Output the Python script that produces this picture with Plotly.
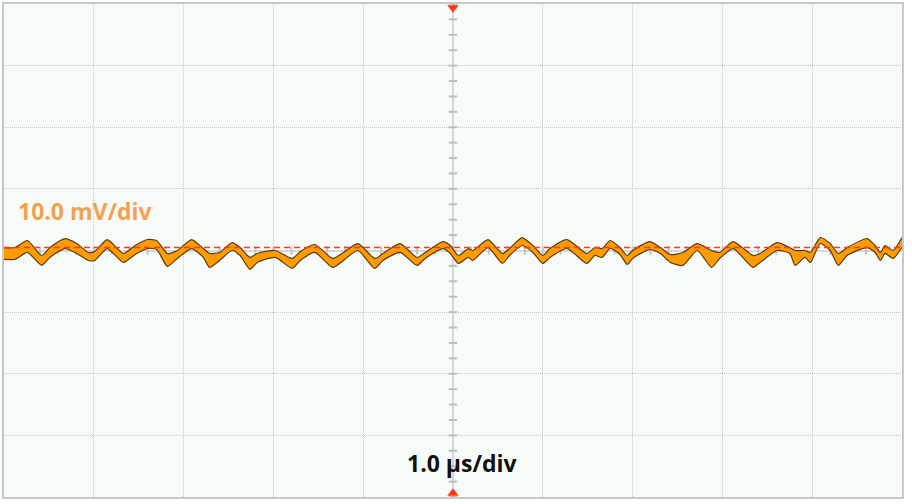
import numpy as np
import plotly.graph_objects as go

time_us = [-5.00, -4.88, -4.74, -4.58, -4.49, -4.32, -4.19, -4.06, -3.99, -3.85,
           -3.67, -3.54, -3.40, -3.30, -3.18, -3.07, -2.91, -2.78, -2.71, -2.60,
           -2.46, -2.37, -2.26, -2.18, -1.98, -1.79, -1.70, -1.54, -1.34, -1.22,
           -1.06, -0.87, -0.78, -0.59, -0.40, -0.31, -0.11, -0.03, 0.06, 0.17,
           0.22, 0.39, 0.55, 0.63, 0.77, 0.89, 1.00, 1.08, 1.27, 1.49,
           1.58, 1.66, 1.75, 1.86, 1.94, 2.00, 2.19, 2.31, 2.42, 2.56,
           2.72, 2.88, 2.97, 3.12, 3.34, 3.42, 3.61, 3.75, 3.81, 3.92,
           3.98, 4.09, 4.20, 4.29, 4.39, 4.61, 4.70, 4.76, 4.81, 4.90, 5.00]
upper_mv = [0.48, 0.48, 1.62, -0.81, 0.48, 1.94, 1.13, -0.32, -0.16, 1.78,
            -0.48, 0.81, 1.78, 1.62, -0.48, 0.00, 1.78, 0.32, -0.48, -0.32,
            1.29, 0.48, -1.13, -0.48, 0.00, -1.29, -0.16, 0.97, -1.29, -0.32,
            1.13, -1.29, -0.48, 1.13, -1.13, -0.32, 1.45, 0.81, -0.81, 0.32,
            0.00, 1.78, -0.48, 0.32, 2.10, 0.81, -0.81, 0.32, 1.78, -0.48,
            0.48, 0.32, 1.62, 0.48, -0.81, 0.00, 1.45, 0.48, -0.65, -0.32,
            1.13, 0.00, -0.32, 1.45, -0.81, -0.48, 1.29, 0.48, 0.00, 0.00,
            -0.32, 2.10, 1.13, -0.48, 0.48, 1.94, 0.81, -0.32, 0.81, 0.00, 2.10]
lower_mv = [-1.45, -1.45, -0.32, -2.42, -1.13, 0.32, -0.48, -1.62, -1.62, 0.32,
            -1.94, -0.65, 0.32, 0.16, -2.58, -1.29, 0.32, -1.13, -2.75, -1.62,
            0.00, -0.81, -3.07, -1.94, -1.13, -2.91, -1.62, -0.32, -2.75, -1.62,
            0.00, -2.91, -1.62, -0.32, -2.42, -1.29, 0.32, -0.48, -2.10, -1.13,
            -1.62, 0.48, -2.10, -0.81, 0.81, -0.32, -2.10, -1.13, 0.32, -2.10,
            -0.81, -1.13, 0.32, -0.65, -2.26, -1.29, 0.16, -0.48, -1.94, -2.42,
            0.00, -2.75, -1.29, 0.32, -2.75, -1.94, 0.00, -0.48, -2.42, -1.13,
            -1.94, 1.13, 0.00, -2.42, -0.81, 0.48, -0.32, -1.62, -0.48, -1.29, 0.48]

ref_level_mv = 0.48      # dashed channel reference level
offset_marker_mv = 0.3   # channel offset indicator on the right edge
trigger_time_us = 0.0

volts_per_div = "10.0 mV/div"
time_per_div = "1.0 µs/div"

X_RANGE = [-5, 5]
Y_RANGE = [-40, 40]

fig = go.Figure()

# Minor ticks on centre axes (drawn first, beneath the trace)
vt = np.arange(Y_RANGE[0], Y_RANGE[1] + 0.01, 2.5)
fig.add_trace(go.Scatter(x=[trigger_time_us] * len(vt), y=vt, mode="markers",
                         marker=dict(symbol="line-ew-open", size=6, color="#bcbcbc",
                                     line=dict(color="#bcbcbc", width=2)),
                         hoverinfo="skip", showlegend=False))
ht = np.arange(X_RANGE[0], X_RANGE[1] + 0.01, 0.2)
fig.add_trace(go.Scatter(x=ht, y=[0] * len(ht), mode="markers",
                         marker=dict(symbol="line-ns-open", size=6, color="#c4c4c4",
                                     line=dict(color="#c4c4c4", width=2)),
                         hoverinfo="skip", showlegend=False))

# Ripple band: lower edge then upper edge filled to it
edge = dict(color="rgba(55,38,5,0.85)", width=1.2, shape="spline", smoothing=0.6)
fig.add_trace(go.Scatter(x=time_us, y=lower_mv, mode="lines", line=edge,
                         hoverinfo="skip", showlegend=False))
fig.add_trace(go.Scatter(x=time_us, y=upper_mv, mode="lines", line=edge,
                         fill="tonexty", fillcolor="#FF9A00",
                         hoverinfo="skip", showlegend=False))

# Reference level dashed line
fig.add_trace(go.Scatter(x=X_RANGE, y=[ref_level_mv, ref_level_mv], mode="lines",
                         line=dict(color="#FF3B1F", width=1.5, dash="6px,4px"),
                         hoverinfo="skip", showlegend=False))

# Trigger markers top and bottom
fig.add_trace(go.Scatter(x=[trigger_time_us, trigger_time_us],
                         y=[Y_RANGE[1] - 0.6, Y_RANGE[0] + 0.6], mode="markers",
                         marker=dict(symbol=["triangle-down", "triangle-up"], size=10,
                                     color="#FF3A10"),
                         cliponaxis=False, hoverinfo="skip", showlegend=False))
# Channel offset marker on right edge
fig.add_trace(go.Scatter(x=[X_RANGE[1] + 0.06], y=[offset_marker_mv], mode="markers",
                         marker=dict(symbol="triangle-left", size=9, color="#FFA040"),
                         cliponaxis=False, hoverinfo="skip", showlegend=False))

fig.add_annotation(x=0.013, y=0.58, xref="paper", yref="paper",
                   text="<b>" + volts_per_div + "</b>", showarrow=False,
                   xanchor="left", yanchor="middle",
                   font=dict(family="Open Sans, sans-serif", size=23, color="#F5A050"))
fig.add_annotation(x=0.511, y=0.069, xref="paper", yref="paper",
                   text="<b>" + time_per_div + "</b>", showarrow=False,
                   xanchor="center", yanchor="middle",
                   font=dict(family="Open Sans, sans-serif", size=23, color="#111111"))

axis_common = dict(showticklabels=False, ticks="", showgrid=True,
                   gridcolor="#c6c6c6", griddash="1px,1px", gridwidth=1,
                   zeroline=True, zerolinecolor="#d6d6d6", zerolinewidth=1.5,
                   showline=True, mirror=True, linecolor="#c8c8c8", linewidth=2,
                   fixedrange=True)

fig.update_xaxes(range=X_RANGE, dtick=1, tick0=0, **axis_common)
fig.update_yaxes(range=Y_RANGE, dtick=10, tick0=0, **axis_common)

fig.update_layout(width=912, height=504,
                  margin=dict(l=4, r=10, t=2, b=7),
                  paper_bgcolor="#ffffff", plot_bgcolor="#F7FBF8",
                  showlegend=False)

fig.write_html("out.html", config={"displayModeBar": False},
               post_script="document.body.style.margin='0';document.body.style.overflow='hidden';")
